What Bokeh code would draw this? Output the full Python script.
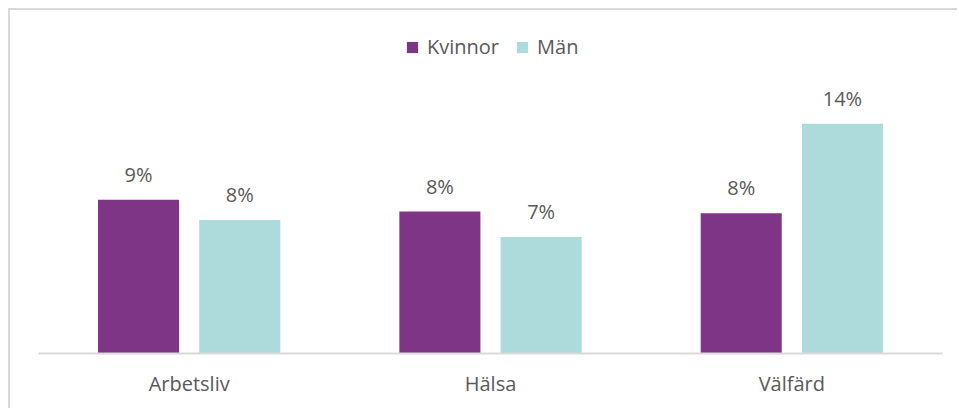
from bokeh.plotting import figure
from bokeh.models import FactorRange, ColumnDataSource, Legend, LegendItem, LabelSet, Range1d
from bokeh.transform import dodge
from bokeh.core.properties import value
from bokeh.embed import file_html
from bokeh.resources import INLINE

categories = ["Arbetsliv", "Hälsa", "Välfärd"]
series = ["Kvinnor", "Män"]
kvinnor = [9.1, 8.4, 8.3]
man = [7.9, 6.9, 13.6]
colors = ["#7E3586", "#ADDBDB"]

src = ColumnDataSource(dict(
    cat=categories,
    k=kvinnor,
    m=man,
    k_lbl=[f"{round(v)}%" for v in kvinnor],
    m_lbl=[f"{round(v)}%" for v in man],
))

FONT = "Open Sans"
TXT = "#595959"

p = figure(x_range=FactorRange(*categories, range_padding=0), y_range=Range1d(0, 20.3),
           width=949, height=400, output_backend="svg", toolbar_location=None,
           min_border_left=28, min_border_right=17, min_border_top=0, min_border_bottom=57)
p.x_range.range_padding = 0
p.styles = {"margin-left": "8px", "margin-top": "8px",
            "border-top": "2px solid #d9d9d9", "border-left": "2px solid #d9d9d9"}

off = 0.168
bw = 0.269
rk = p.vbar(x=dodge("cat", -off, range=p.x_range), top="k", width=bw, source=src,
            fill_color=colors[0], line_color=None)
rm = p.vbar(x=dodge("cat", off, range=p.x_range), top="m", width=bw, source=src,
            fill_color=colors[1], line_color=None)

for col, lbl, o in [("k", "k_lbl", -off), ("m", "m_lbl", off)]:
    ls = LabelSet(x=dodge("cat", o, range=p.x_range), y=col, text=lbl, source=src,
                  text_align="center", text_baseline="alphabetic", y_offset=18,
                  text_font=value(FONT), text_font_size="20px", text_color=TXT)
    p.add_layout(ls)

legend = Legend(items=[LegendItem(label=series[0], renderers=[rk]),
                       LegendItem(label=series[1], renderers=[rm])],
                orientation="horizontal", location=(367, 293),
                label_text_font=FONT, label_text_font_size="20px", label_text_color=TXT,
                glyph_width=14, glyph_height=14, spacing=16, label_standoff=8,
                padding=0, margin=0, border_line_color=None, background_fill_alpha=0)
p.add_layout(legend, "center")

p.yaxis.visible = False
p.xgrid.grid_line_color = None
p.ygrid.grid_line_color = None
p.outline_line_color = None
p.xaxis.axis_line_color = "#d9d9d9"
p.xaxis.axis_line_width = 2
p.xaxis.major_tick_line_color = None
p.xaxis.minor_tick_line_color = None
p.xaxis.major_label_text_font = FONT
p.xaxis.major_label_text_font_size = "20px"
p.xaxis.major_label_text_color = TXT
p.xaxis.major_label_standoff = 10

open("out.html", "w").write(file_html(p, INLINE))
